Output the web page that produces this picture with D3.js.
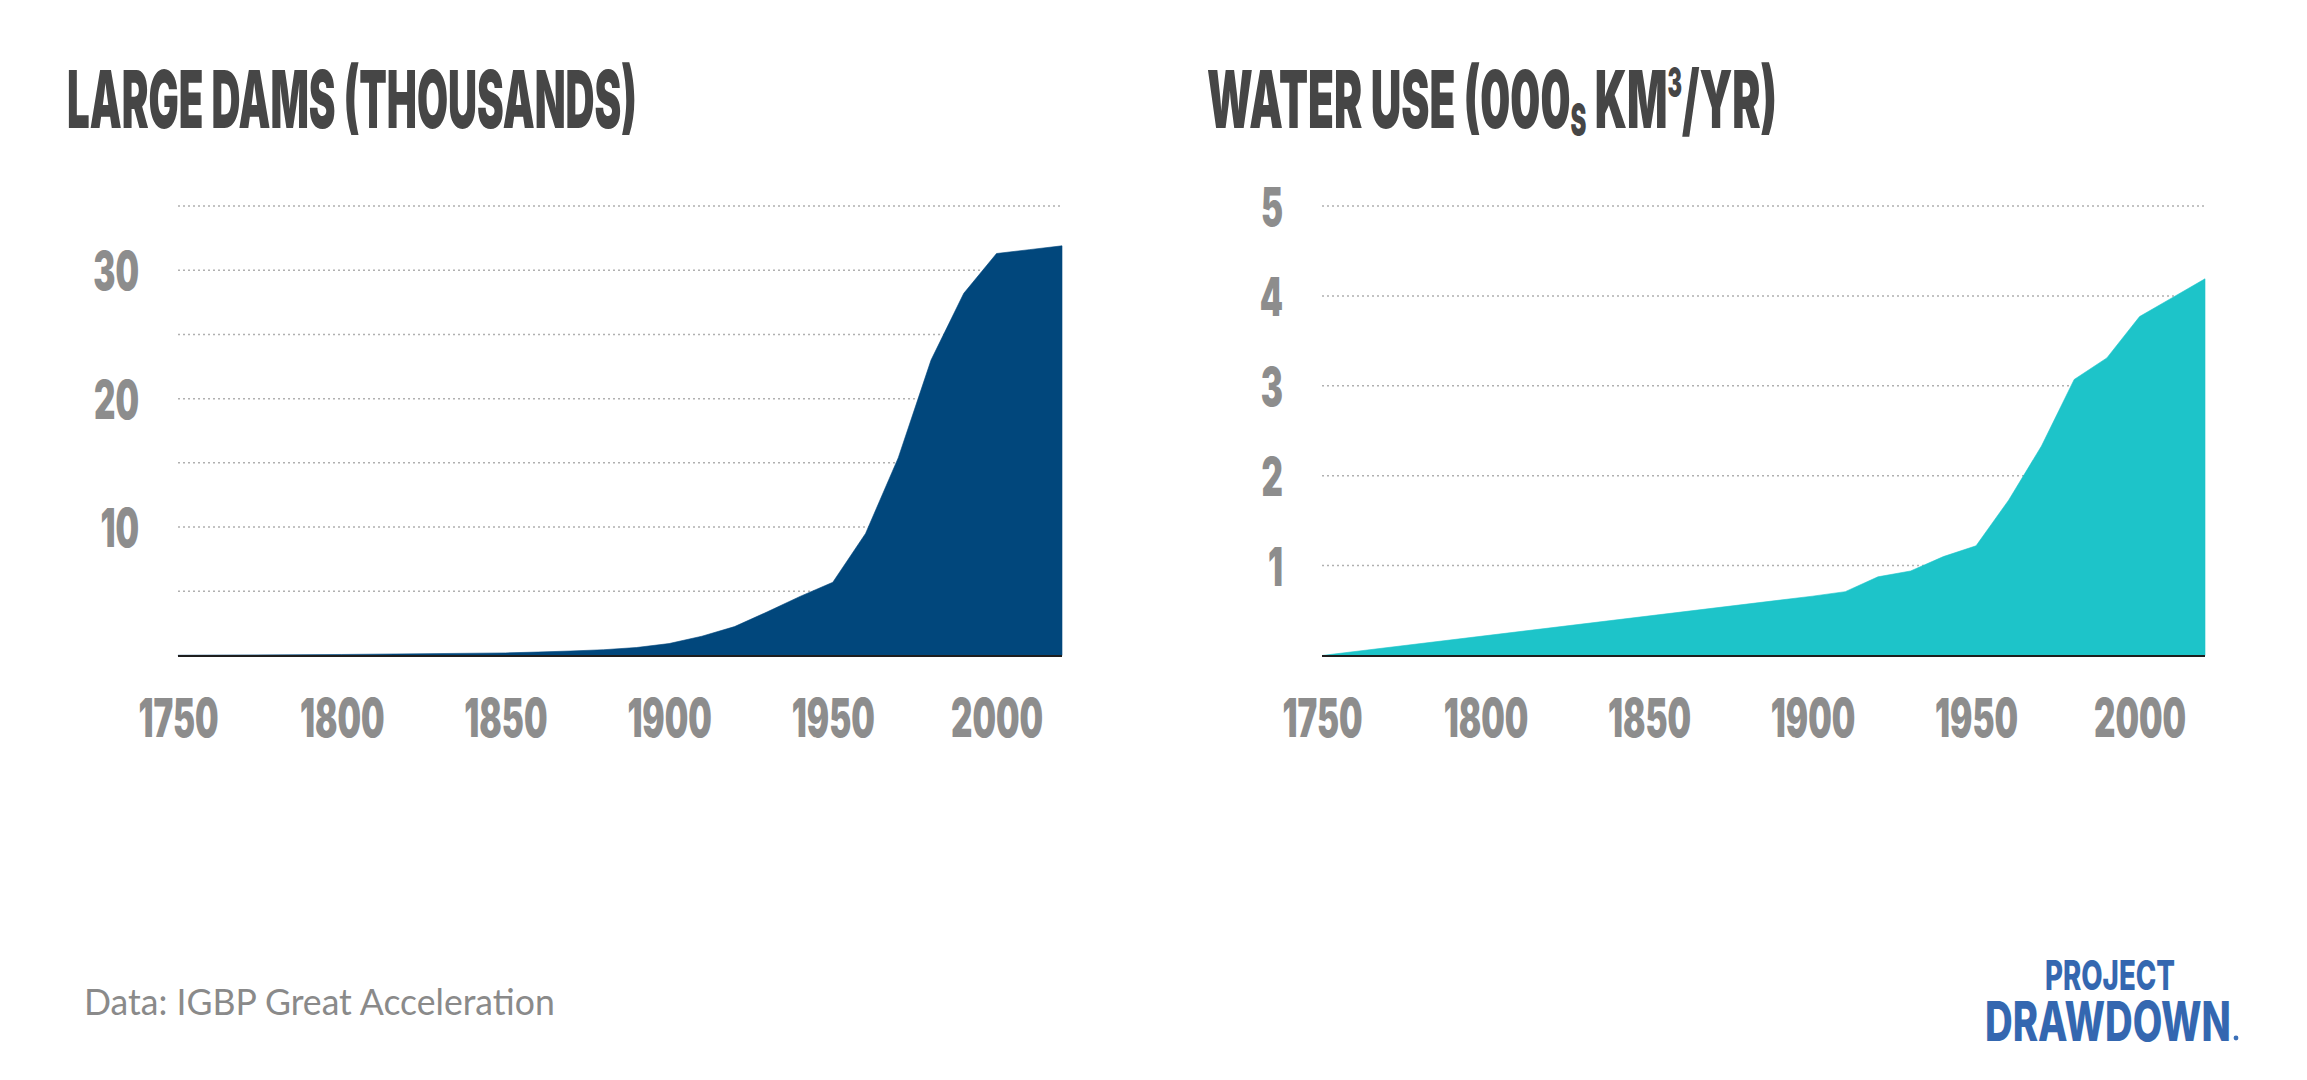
<!DOCTYPE html>
<html>
<head>
<meta charset="utf-8">
<script src="https://cdn.jsdelivr.net/npm/d3@7"></script>
<style>
  html, body { margin: 0; padding: 0; background: #fff; }
  svg { display: block; }
</style>
</head>
<body>
<svg id="chart" width="2307" height="1080"></svg>
<script>
// ---------- data ----------
const damYears  = [1750, 1800, 1850, 1860, 1870, 1880, 1890, 1900, 1910, 1920, 1930, 1940, 1950, 1960, 1970, 1980, 1990, 2000, 2010, 2020];
const damValues = [0.02, 0.08, 0.2, 0.27, 0.35, 0.45, 0.62, 0.93, 1.5, 2.25, 3.4, 4.6, 5.7, 9.5, 15.4, 23.0, 28.2, 31.3, 31.6, 31.9];

const waterYears  = [1750, 1900, 1910, 1920, 1930, 1940, 1950, 1960, 1970, 1980, 1990, 2000, 2010, 2020];
const waterValues = [0, 0.66, 0.71, 0.875, 0.94, 1.1, 1.22, 1.73, 2.33, 3.07, 3.31, 3.77, 3.98, 4.19];

const xTickValues     = [1750, 1800, 1850, 1900, 1950, 2000];
const damTickLabels   = [10, 20, 30];
const damGrid         = [5, 10, 15, 20, 25, 30, 35];
const waterTickLabels = [1, 2, 3, 4, 5];
const waterGrid       = [1, 2, 3, 4, 5];

const leftTitle  = "LARGE DAMS (THOUSANDS)";
const rightTitleParts = [
  { t: "WATER USE (000", size: 80, dy: 0 },
  { t: "S", size: 45, dy: 8 },
  { t: "\u00A0KM", size: 80, dy: 0 },
  { t: "3", size: 41, dy: -31 },
  { t: "/YR)", size: 80, dy: 0 }
];
const sourceText = "Data: IGBP Great Acceleration";

// ---------- setup ----------
const svg = d3.select("#chart");
svg.append("rect").attr("width", 2307).attr("height", 1080).attr("fill", "#fff");

const condFont = "Inter, Roboto, 'DejaVu Sans', sans-serif";
const tickColor = "#8d8d8d";
const titleColor = "#464646";

// horizontally condense a text element by factor k, keeping its anchor x
function condense(node, k) {
  const x = +node.getAttribute("x") || 0;
  node.setAttribute("x", x / k);
  const prev = node.getAttribute("transform") || "";
  node.setAttribute("transform", prev + ` scale(${k},1)`);
}
// fit a left-anchored text element to a target width
function fitWidth(sel, target) {
  sel.each(function () {
    const w = this.getComputedTextLength();
    condense(this, target / w);
  });
}

const probe = svg.append("text").attr("font-family", condFont).attr("font-weight", 900)
  .attr("font-size", 53).text("1750");
const tickK = 80 / probe.node().getComputedTextLength();
probe.remove();

function drawPanel(cfg) {
  const x = d3.scaleLinear().domain([1750, 2020]).range([cfg.x0, cfg.x1]);
  const y = d3.scaleLinear().domain([0, cfg.yMax]).range([655.5, 206]);
  const g = svg.append("g");

  // grid
  g.append("g").selectAll("line").data(cfg.grid).join("line")
    .attr("x1", cfg.x0).attr("x2", cfg.x1)
    .attr("y1", d => y(d)).attr("y2", d => y(d))
    .attr("stroke", "#b0b0b0").attr("stroke-width", 1.5)
    .attr("stroke-dasharray", "2 3");

  // area
  const data = cfg.years.map((yr, i) => ({ yr, v: cfg.values[i] }));
  const area = d3.area().x(d => x(d.yr)).y0(y(0)).y1(d => y(d.v)).curve(d3.curveLinear);
  g.append("path").datum(data).attr("d", area).attr("fill", cfg.color)
    .attr("stroke", cfg.color).attr("stroke-width", 0.6);

  // baseline
  g.append("line").attr("x1", cfg.x0).attr("x2", cfg.x1)
    .attr("y1", y(0) + 0.5).attr("y2", y(0) + 0.5)
    .attr("stroke", "#1e1e1e").attr("stroke-width", 2.2);

  // x axis
  const xAxis = g.append("g").attr("transform", `translate(0,${y(0)})`)
    .call(d3.axisBottom(x).tickValues(xTickValues).tickFormat(d3.format("d")).tickSize(0));
  xAxis.select(".domain").remove();
  xAxis.selectAll("text")
    .attr("x", 0).attr("y", 737 - 655.5).attr("dy", 0)
    .attr("font-family", condFont).attr("font-weight", 900).attr("font-size", 53)
    .attr("fill", tickColor)
    .each(function () { condense(this, tickK); });

  // y axis labels
  const yAxis = g.append("g").attr("transform", `translate(${cfg.x0},0)`)
    .call(d3.axisLeft(y).tickValues(cfg.ticks).tickFormat(d3.format("d")).tickSize(0));
  yAxis.select(".domain").remove();
  yAxis.selectAll("text")
    .attr("x", cfg.labelRight - cfg.x0).attr("dy", 0).attr("y", 19.5)
    .attr("text-anchor", "end")
    .attr("font-family", condFont).attr("font-weight", 900).attr("font-size", 53)
    .attr("fill", tickColor)
    .each(function () { condense(this, tickK); });
}

drawPanel({ x0: 178, x1: 1062, yMax: 35, years: damYears, values: damValues,
  grid: damGrid, ticks: damTickLabels, color: "#01477c", labelRight: 139 });
drawPanel({ x0: 1322, x1: 2205, yMax: 5, years: waterYears, values: waterValues,
  grid: waterGrid, ticks: waterTickLabels, color: "#1dc4c9", labelRight: 1283 });

// ---------- titles ----------
svg.append("text").attr("x", 67).attr("y", 128)
  .attr("font-family", condFont).attr("font-weight", 900).attr("font-size", 80)
  .attr("fill", titleColor).text(leftTitle)
  .call(s => fitWidth(s, 570));

// right title built from separate pieces laid out in sequence
(function () {
  const startX = 1207, baseY = 128, targetW = 570;
  const pieces = rightTitleParts.map(p => {
    const el = svg.append("text").attr("x", 0).attr("y", baseY + p.dy)
      .attr("font-family", condFont).attr("font-weight", 900).attr("font-size", p.size)
      .attr("fill", titleColor).text(p.t);
    return { el, w: el.node().getComputedTextLength() };
  });
  const total = d3.sum(pieces, p => p.w);
  const k = targetW / total;
  let cx = startX;
  pieces.forEach(p => {
    p.el.attr("x", cx);
    condense(p.el.node(), k);
    cx += p.w * k;
  });
})();

// ---------- source ----------
svg.append("text").attr("x", 84).attr("y", 1015)
  .attr("font-family", "Lato, 'Open Sans', sans-serif").attr("font-size", 36)
  .attr("fill", "#8a8a8a").text(sourceText)
  .call(s => fitWidth(s, 471));

// ---------- logo ----------
const defs = svg.append("defs");
const lg = defs.append("linearGradient").attr("id", "logoGrad")
  .attr("gradientUnits", "userSpaceOnUse")
  .attr("x1", 1985).attr("y1", 955).attr("x2", 2235).attr("y2", 1045);
lg.append("stop").attr("offset", "0%").attr("stop-color", "#2f63ad");
lg.append("stop").attr("offset", "40%").attr("stop-color", "#3a6eb7");
lg.append("stop").attr("offset", "62%").attr("stop-color", "#7ea6da");
lg.append("stop").attr("offset", "80%").attr("stop-color", "#4a7cc0");
lg.append("stop").attr("offset", "100%").attr("stop-color", "#3467b0");

svg.append("text").attr("x", 2045).attr("y", 990)
  .attr("font-family", condFont).attr("font-weight", 800).attr("font-size", 41)
  .attr("fill", "url(#logoGrad)").text("PROJECT")
  .call(s => fitWidth(s, 130));
svg.append("text").attr("x", 1985).attr("y", 1041)
  .attr("font-family", condFont).attr("font-weight", 800).attr("font-size", 55)
  .attr("fill", "url(#logoGrad)").text("DRAWDOWN")
  .call(s => fitWidth(s, 246));
svg.append("circle").attr("cx", 2236).attr("cy", 1038).attr("r", 2.4).attr("fill", "#3c70b8");
</script>
</body>
</html>
